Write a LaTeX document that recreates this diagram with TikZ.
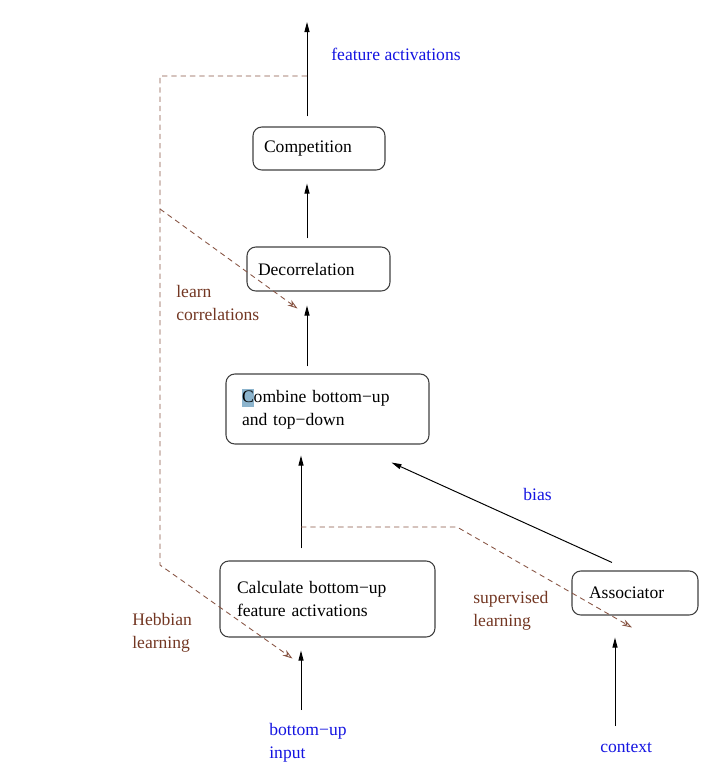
\documentclass[tikz,border=0pt]{standalone}
\usepackage{fontspec}
\setmainfont{Liberation Serif}
\usetikzlibrary{calc,arrows.meta}
\definecolor{actblue}{RGB}{20,20,225}
\definecolor{learnbrown}{RGB}{115,55,35}
\definecolor{selblue}{RGB}{140,180,205}
\tikzset{
  block/.style={draw=black!75, rounded corners=5pt, line width=0.6pt,
    align=left, inner ysep=0pt, font=\fontsize{10}{13}\selectfont},
  flow/.style={-{Triangle[length=2mm,width=1mm]}, line width=0.55pt},
  learnline/.style={draw=learnbrown!85, line width=0.5pt,
    dash pattern=on 3pt off 2.3pt,
    -{Stealth[open,length=2mm,width=1.3mm]}},
  note/.style={inner sep=0pt, anchor=west, align=left,
    font=\fontsize{10}{13}\selectfont}
}
\begin{document}
\begin{tikzpicture}[x=0.02cm,y=-0.02cm]
  \useasboundingbox (0,0) rectangle (727,782);

  % Processing stages
  \node[block, text width=2.2cm, inner xsep=0.22cm, minimum height=0.86cm]
    (comp) at (319,148.5) {Competition};
  \node[block, text width=2.42cm, inner xsep=0.22cm, minimum height=0.88cm]
    (decor) at (318.5,269) {Decorrelation};
  \node[block, text width=3.42cm, inner xsep=0.32cm, minimum height=1.4cm]
    (comb) at (327.5,409)
    {{\setlength{\fboxsep}{0pt}\colorbox{selblue}{\rule[-2.6pt]{0pt}{10pt}C}}ombine bottom−up\\and top−down};
  \node[block, text width=3.62cm, inner xsep=0.34cm, minimum height=1.52cm]
    (calc) at (327.5,599) {Calculate bottom−up\\feature activations};
  \node[block, text width=1.84cm, inner xsep=0.34cm, minimum height=0.88cm]
    (assoc) at (635,593) {Associator};

  % Free ends of the main flow
  \coordinate (out) at (307,22);
  \coordinate (in) at (301,710);
  \coordinate (ctx) at (615,726);

  \draw[flow] ($(comp.north)+(-12,-10)$) -- (out);
  \draw[flow] ($(decor.north)+(-11.5,-8)$) -- ($(comp.south)+(-12,13)$);
  \draw[flow] ($(comb.north)+(-20.5,-7)$) -- ($(decor.south)+(-11.5,14)$);
  \draw[flow] ($(calc.north)+(-26.5,-12)$) -- ($(comb.south)+(-26.5,11)$);
  \draw[flow] (in) -- ($(calc.south)+(-26.5,13)$);
  \draw[flow] (ctx) -- ($(assoc.south)+(-20,22)$);
  \draw[flow] ($(assoc.north)+(-23,-8)$) -- ($(comb.south east)+(-38,18)$);

  % Learning signals
  \coordinate (tap) at (307,76);
  \coordinate (corner) at (160,76);
  \coordinate (split) at (160,209);
  \coordinate (knee) at (160,565);
  \coordinate (tap2) at (301,527);
  \coordinate (bend) at (457,527);

  \draw[learnline] (tap) -- (corner) -- (knee) -- ($(calc.south)+(-35,21)$);
  \draw[learnline] (split) -- ($(decor.south)+(-21,17)$);
  \draw[learnline] (tap2) -- (bend) -- ($(assoc.south)+(-3,12)$);

  \node[note, text=actblue] (outlab) at (331,54) {feature activations};
  \node[note, text=learnbrown] (corrlab) at (176,303) {learn\\correlations};
  \node[note, text=actblue] (biaslab) at (523,494) {bias};
  \node[note, text=learnbrown] (hebblab) at (132,633) {Hebbian\\learning};
  \node[note, text=learnbrown] (suplab) at (473,611) {supervised\\learning};
  \node[note, text=actblue] (inlab) at (269,743) {bottom−up\\input};
  \node[note, text=actblue] (ctxlab) at (600,748) {context};
\end{tikzpicture}
\end{document}
